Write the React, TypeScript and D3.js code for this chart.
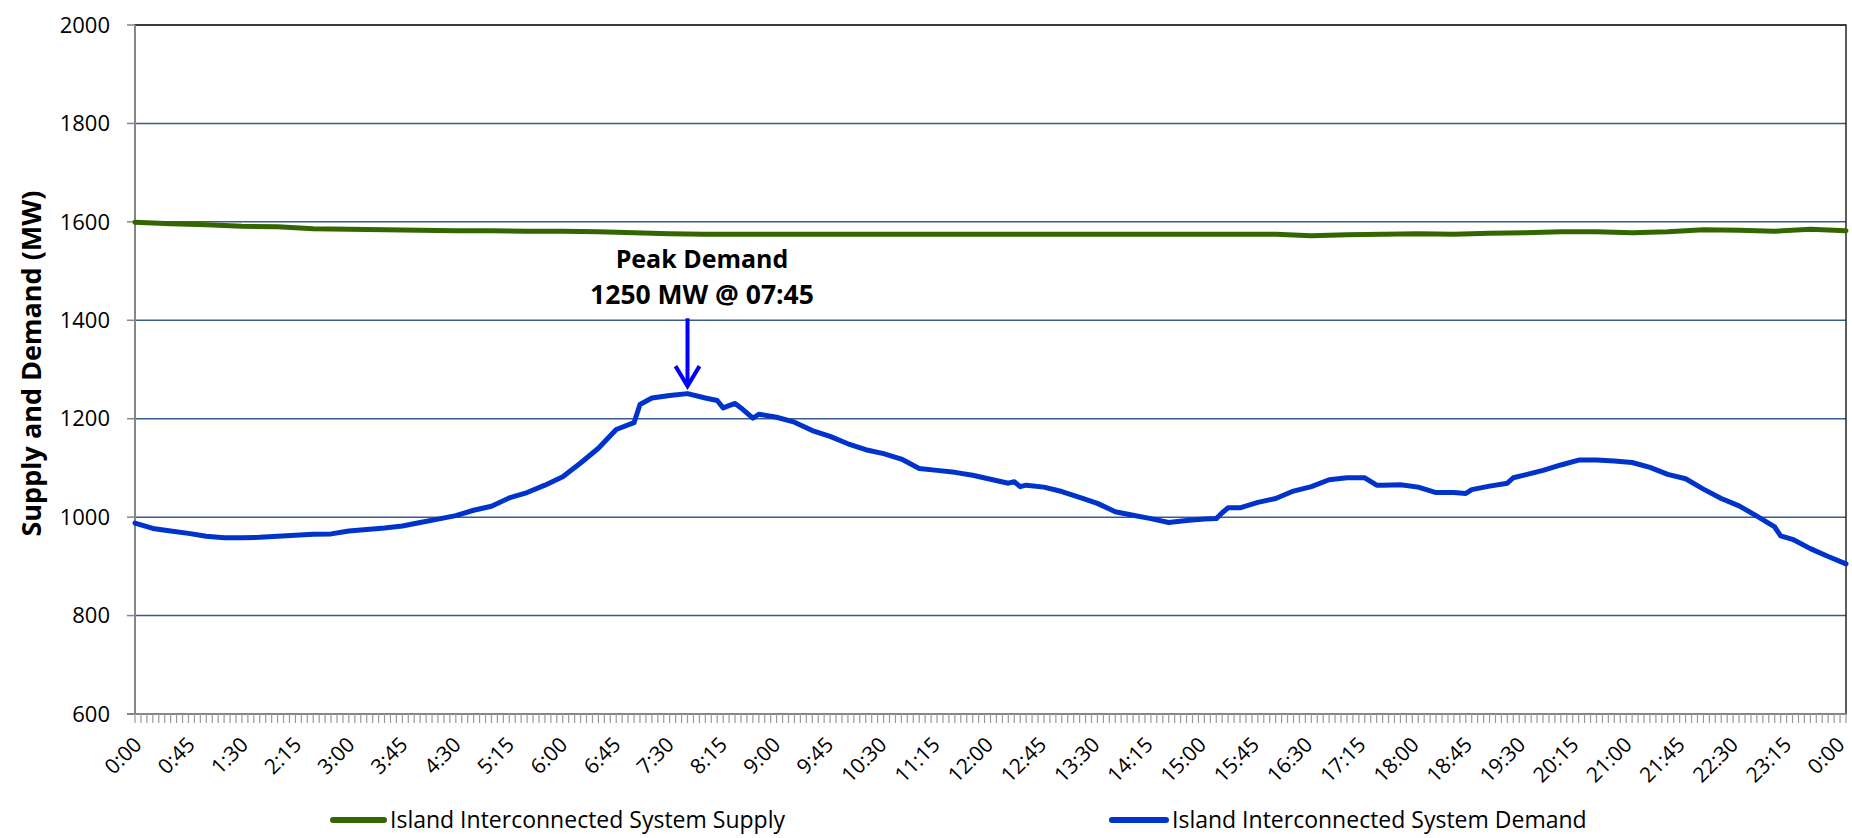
import { useEffect, useMemo } from 'react'
import * as d3 from 'd3'

// time of day (h:mm) and MW
const demandTimes = [
  '0:00', '0:15', '0:30', '0:45', '1:00', '1:15', '1:30', '1:45', '2:00', '2:15', '2:30', '2:45',
  '3:00', '3:15', '3:30', '3:45', '4:00', '4:15', '4:30', '4:45', '5:00', '5:15', '5:30', '5:45',
  '6:00', '6:15', '6:30', '6:45', '7:00', '7:05', '7:15', '7:30', '7:45', '8:00', '8:10', '8:15',
  '8:25', '8:30', '8:40', '8:45', '9:00', '9:15', '9:30', '9:45', '10:00', '10:15', '10:30', '10:45',
  '11:00', '11:15', '11:30', '11:45', '12:00', '12:15', '12:20', '12:25', '12:30', '12:45', '13:00', '13:15',
  '13:30', '13:45', '14:00', '14:15', '14:30', '14:45', '15:00', '15:10', '15:15', '15:20', '15:30', '15:45',
  '16:00', '16:15', '16:30', '16:45', '17:00', '17:15', '17:25', '17:30', '17:45', '18:00', '18:15', '18:30',
  '18:40', '18:45', '19:00', '19:15', '19:20', '19:30', '19:45', '20:00', '20:15', '20:30', '20:45', '21:00',
  '21:15', '21:30', '21:45', '22:00', '22:15', '22:30', '22:45', '23:00', '23:05', '23:15', '23:30', '23:45',
  '24:00',
]
const demandValues = [
  988, 977, 972, 967, 961, 958, 958, 959, 961, 963, 965, 966,
  972, 975, 978, 982, 989, 996, 1003, 1014, 1022, 1039, 1050, 1065,
  1082, 1110, 1140, 1178, 1192, 1229, 1242, 1247, 1251, 1242, 1237, 1222,
  1231, 1222, 1201, 1209, 1203, 1193, 1176, 1164, 1149, 1137, 1129, 1118,
  1099, 1095, 1091, 1085, 1077, 1069, 1072, 1062, 1065, 1061, 1052, 1040,
  1028, 1011, 1004, 997, 989, 993, 996, 997, 1009, 1019, 1019, 1030,
  1038, 1053, 1062, 1076, 1080, 1080, 1065, 1065, 1066, 1061, 1050, 1050,
  1048, 1056, 1063, 1069, 1080, 1086, 1095, 1106, 1116, 1116, 1114, 1111,
  1101, 1087, 1078, 1057, 1038, 1023, 1002, 980, 962, 955, 936, 920,
  905,
]

const supplyTimes = [
  '0:00', '0:30', '1:00', '1:30', '2:00', '2:30', '3:00', '3:30', '4:00', '4:30', '5:00', '5:30',
  '6:00', '6:30', '7:00', '7:30', '8:00', '9:00', '10:00', '11:00', '12:00', '13:00', '14:00', '15:00',
  '16:00', '16:30', '17:00', '17:30', '18:00', '18:30', '19:00', '19:30', '20:00', '20:30', '21:00', '21:30',
  '22:00', '22:30', '23:00', '23:30', '24:00',
]
const supplyValues = [
  1599, 1596, 1594, 1591, 1590, 1586, 1585, 1584, 1583, 1582, 1582, 1581,
  1581, 1580, 1578, 1576, 1575, 1575, 1575, 1575, 1575, 1575, 1575, 1575,
  1575, 1572, 1574, 1575, 1576, 1575, 1577, 1578, 1580, 1580, 1578, 1580,
  1584, 1583, 1581, 1585, 1582,
]

const xTickLabels = [
  '0:00', '0:45', '1:30', '2:15', '3:00', '3:45', '4:30', '5:15', '6:00', '6:45', '7:30',
  '8:15', '9:00', '9:45', '10:30', '11:15', '12:00', '12:45', '13:30', '14:15', '15:00',
  '15:45', '16:30', '17:15', '18:00', '18:45', '19:30', '20:15', '21:00', '21:45', '22:30',
  '23:15', '0:00',
]
const yTicks = [600, 800, 1000, 1200, 1400, 1600, 1800, 2000]

const peakTime = '7:45'
const peakValue = 1250

const seriesNames = ['Island Interconnected System Supply', 'Island Interconnected System Demand']

const toMin = (s: string) => {
  const [h, m] = s.split(':').map(Number)
  return h * 60 + m
}

const W = 1852
const H = 838
const FONT = "'Open Sans', 'Liberation Sans', sans-serif"
const GREEN = '#336600'
const BLUE = '#0033cc'

export default function App() {
  useEffect(() => {
    document.body.style.margin = '0'
  }, [])

  const x = useMemo(() => d3.scaleLinear().domain([0, 1440]).range([135, 1846]), [])
  const y = useMemo(() => d3.scaleLinear().domain([600, 2000]).range([714, 25]), [])

  const line = d3
    .line<[number, number]>()
    .x((d) => x(d[0]))
    .y((d) => y(d[1]))

  const demand = demandTimes.map((t, i) => [toMin(t), demandValues[i]] as [number, number])
  const supply = supplyTimes.map((t, i) => [toMin(t), supplyValues[i]] as [number, number])

  const minorTicks = d3.range(0, 1441, 5)
  const px = x(toMin(peakTime))
  const tipY = y(peakValue) - 8
  const tailY = y(1400) - 2

  return (
    <svg width={W} height={H} style={{ display: 'block', background: '#fff' }} fontFamily={FONT}>
      {/* gridlines */}
      {yTicks.map((v) => (
        <line key={v} x1={x(0)} x2={x(1440)} y1={y(v)} y2={y(v)} stroke="#3a5a8c" strokeWidth={1.5} />
      ))}
      {/* plot border */}
      <rect x={x(0)} y={y(2000)} width={x(1440) - x(0)} height={y(600) - y(2000)} fill="none" stroke="#262626" strokeWidth={1.5} />
      {/* axes */}
      <line x1={x(0)} x2={x(0)} y1={y(2000)} y2={y(600)} stroke="#868686" strokeWidth={2} />
      <line x1={x(0) - 8} x2={x(1440)} y1={y(600)} y2={y(600)} stroke="#868686" strokeWidth={2} />
      {yTicks.map((v) => (
        <g key={v}>
          <line x1={x(0) - 8} x2={x(0)} y1={y(v)} y2={y(v)} stroke="#868686" strokeWidth={1.5} />
          <text x={110} y={y(v)} dy="0.35em" textAnchor="end" fontSize={22} fill="#000">
            {v}
          </text>
        </g>
      ))}
      {minorTicks.map((t) => (
        <line key={t} x1={x(t)} x2={x(t)} y1={y(600)} y2={y(600) + 9} stroke="#9a9a9a" strokeWidth={1.2} />
      ))}
      {xTickLabels.map((lab, i) => {
        // labels drift slightly left of their ticks across the axis, as in the original
        const tx = x(i * 45) + 8 - i * 0.25
        const ty = y(600) + 32
        return (
          <text key={i} transform={`translate(${tx},${ty}) rotate(-45)`} textAnchor="end" fontSize={21} fill="#000">
            {lab}
          </text>
        )
      })}
      <text
        transform={`translate(41,${(y(600) + y(2000)) / 2 - 6}) rotate(-90)`}
        textAnchor="middle"
        fontSize={27}
        fontWeight="bold"
        fill="#000"
      >
        Supply and Demand (MW)
      </text>

      {/* series */}
      <path d={line(supply) ?? ''} fill="none" stroke={GREEN} strokeWidth={5} strokeLinejoin="round" strokeLinecap="round" />
      <path d={line(demand) ?? ''} fill="none" stroke={BLUE} strokeWidth={5} strokeLinejoin="round" strokeLinecap="round" />

      {/* peak annotation */}
      <text x={702} y={268} textAnchor="middle" fontSize={25} fontWeight="bold" fill="#000">
        Peak Demand
      </text>
      <text x={702} y={304} textAnchor="middle" fontSize={26.5} fontWeight="bold" fill="#000">
        {`${peakValue} MW @ 07:45`}
      </text>
      <line x1={px} x2={px} y1={tailY} y2={tipY} stroke="#0000ff" strokeWidth={4} />
      <path
        d={`M${px - 12},${tipY - 20} L${px},${tipY} L${px + 12},${tipY - 20}`}
        fill="none"
        stroke="#0000ff"
        strokeWidth={4}
      />

      {/* legend */}
      <line x1={333} x2={384} y1={820} y2={820} stroke={GREEN} strokeWidth={6} strokeLinecap="round" />
      <text x={390} y={820} dy="0.35em" fontSize={23} fill="#000">
        {seriesNames[0]}
      </text>
      <line x1={1112} x2={1166} y1={820} y2={820} stroke={BLUE} strokeWidth={6} strokeLinecap="round" />
      <text x={1172} y={820} dy="0.35em" fontSize={23} fill="#000">
        {seriesNames[1]}
      </text>
    </svg>
  )
}
